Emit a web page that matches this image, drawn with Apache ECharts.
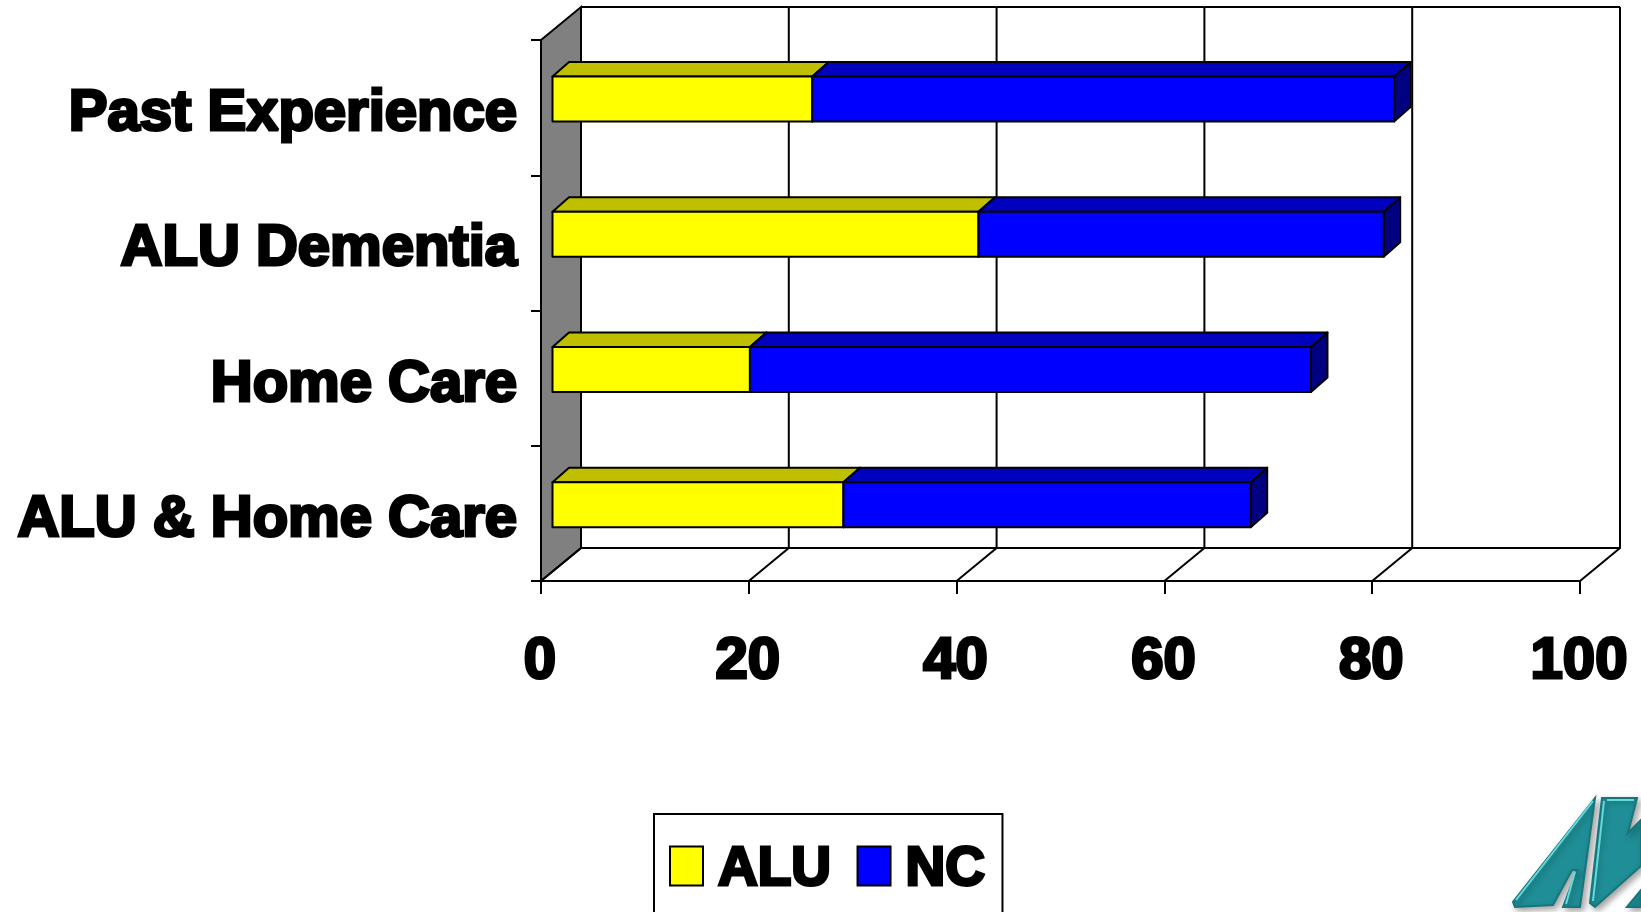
<!DOCTYPE html>
<html>
<head>
<meta charset="utf-8">
<style>
  html, body { margin: 0; padding: 0; background: #fff; overflow: hidden; }
  #chart { width: 1641px; height: 912px; }
</style>
<script src="https://cdn.jsdelivr.net/npm/echarts@6/dist/echarts.min.js"></script>
</head>
<body>
<div id="chart"></div>
<script>
const categories = ['Past Experience', 'ALU Dementia', 'Home Care', 'ALU & Home Care'];
const aluValues = [25, 41, 19, 28];
const ncValues = [56, 39, 54, 39.2];
const valueTicks = [0, 20, 40, 60, 80, 100];

// Pseudo-3D offsets: chart box depth and the inset depth of each bar
const BOX_DX = 40, BOX_DY = -33;
const BAR_DX = 16.5, BAR_DY = -14.5, BAR_INSET_X = 11.5, BAR_INSET_Y = -8.7;
const BAR_RATIO = 0.333;

const heavyText = {
  fontFamily: '"Liberation Sans", Arial, sans-serif',
  fontWeight: 'bold',
  fontSize: 58,
  color: '#000',
  textBorderColor: '#000',
  textBorderWidth: 3
};

const lineStyle = { stroke: '#000', lineWidth: 2, fill: null };

function shade(hex, factor) {
  const n = parseInt(hex.slice(1), 16);
  const c = [n >> 16, (n >> 8) & 255, n & 255].map(v => Math.round(v * factor));
  return `rgb(${c[0]},${c[1]},${c[2]})`;
}

function renderBar(color) {
  return function (params, api) {
    const cat = api.value(0);
    const start = api.coord([api.value(1), cat]);
    const end = api.coord([api.value(2), cat]);
    const h = api.size([0, 1])[1] * BAR_RATIO;
    const x0 = start[0] + BAR_INSET_X;
    const x1 = end[0] + BAR_INSET_X;
    const yT = start[1] + BAR_INSET_Y - h / 2;
    const yB = yT + h;
    const poly = (points, fill) => ({
      type: 'polygon',
      shape: { points },
      style: { fill, stroke: '#000', lineWidth: 2, lineJoin: 'round' }
    });
    return {
      type: 'group',
      children: [
        poly([[x1, yT], [x1 + BAR_DX, yT + BAR_DY], [x1 + BAR_DX, yB + BAR_DY], [x1, yB]], shade(color, 0.5)),
        poly([[x0, yT], [x0 + BAR_DX, yT + BAR_DY], [x1 + BAR_DX, yT + BAR_DY], [x1, yT]], shade(color, 0.75)),
        poly([[x0, yT], [x1, yT], [x1, yB], [x0, yB]], color)
      ]
    };
  };
}

// Back wall, side wall and floor rulings of the chart box
function renderFrame(params, api) {
  const v = api.value(0);
  const i = params.dataIndex;
  const bottom = api.coord([v, categories.length - 0.5]);
  bottom[1] = params.coordSys.y + params.coordSys.height;
  const topY = params.coordSys.y + BOX_DY;
  const bx = bottom[0] + BOX_DX;
  const by = bottom[1] + BOX_DY;
  const children = [
    { type: 'polyline', shape: { points: [[bottom[0], bottom[1]], [bx, by], [bx, topY]] }, style: lineStyle }
  ];
  if (i === 0) {
    children.unshift({
      type: 'polygon',
      shape: { points: [[bottom[0], params.coordSys.y], [bx, topY], [bx, by], [bottom[0], bottom[1]]] },
      style: { fill: '#808080', stroke: '#000', lineWidth: 2 }
    });
  }
  if (i < valueTicks.length - 1) {
    const nx = api.coord([valueTicks[i + 1], 0])[0] + BOX_DX;
    children.push(
      { type: 'line', shape: { x1: bx, y1: by, x2: nx, y2: by }, style: lineStyle },
      { type: 'line', shape: { x1: bx, y1: topY, x2: nx, y2: topY }, style: lineStyle }
    );
  }
  return { type: 'group', children };
}

// Company mark in the lower right corner
const markPieces = [
  [[1595, 798], [1513, 902], [1515, 907], [1553, 905], [1572, 870], [1577, 870], [1563, 907], [1580, 907]],
  [[1602, 798], [1637, 798], [1628, 833], [1641, 820], [1641, 866], [1595, 907], [1590, 903]],
  [[1627, 907], [1641, 890], [1641, 907]]
];
const markHighlights = [
  [[1593, 801], [1516, 900]],
  [[1604, 801], [1593, 901]],
  [[1575, 872], [1566, 904]],
  [[1607, 800], [1634, 800]]
];

const chart = echarts.init(document.getElementById('chart'), null, { renderer: 'canvas' });
chart.setOption({
  animation: false,
  backgroundColor: '#fff',
  grid: { left: 541, top: 40, width: 1039, height: 541 },
  xAxis: {
    type: 'value',
    min: 0,
    max: 100,
    interval: 20,
    splitLine: { show: false },
    axisLine: { show: true, lineStyle: { color: '#000', width: 2 } },
    axisTick: { show: true, length: 13, lineStyle: { color: '#000', width: 2 } },
    axisLabel: { ...heavyText, margin: 52, padding: [0, 2, 0, 0], showMinLabel: true, showMaxLabel: true }
  },
  yAxis: {
    type: 'category',
    inverse: true,
    data: categories,
    axisLine: { show: true, lineStyle: { color: '#000', width: 2 } },
    axisTick: { show: true, length: 10, lineStyle: { color: '#000', width: 2 } },
    axisLabel: {
      ...heavyText,
      margin: 24,
      formatter: '{name|{value}}',
      rich: { name: { ...heavyText, padding: [13, 0, 0, 0] } }
    }
  },
  legend: {
    data: ['ALU', 'NC'],
    left: 654,
    top: 814,
    orient: 'horizontal',
    padding: [27, 16, 33, 15],
    itemWidth: 33,
    itemHeight: 39,
    itemGap: 24,
    icon: 'rect',
    backgroundColor: '#fff',
    borderColor: '#000',
    borderWidth: 2,
    selectedMode: false,
    itemStyle: { borderColor: '#000', borderWidth: 2 },
    formatter: '{label|{name}}',
    textStyle: {
      ...heavyText,
      fontSize: 55,
      rich: { label: { ...heavyText, fontSize: 55, padding: [8, 0, 0, 10] } }
    }
  },
  graphic: [
    ...markPieces.map(points => ({
      type: 'polygon',
      shape: { points },
      z: 1,
      style: {
        fill: '#1f8e96',
        stroke: '#17757c',
        lineWidth: 2,
        shadowColor: 'rgba(0,0,0,0.35)',
        shadowBlur: 6,
        shadowOffsetX: 3,
        shadowOffsetY: 3
      }
    })),
    ...markHighlights.map(points => ({
      type: 'polyline',
      shape: { points },
      z: 2,
      style: { stroke: '#63dadc', lineWidth: 2, fill: null }
    }))
  ],
  series: [
    {
      name: 'frame',
      type: 'custom',
      silent: true,
      z: 1,
      clip: false,
      renderItem: renderFrame,
      encode: { x: 0 },
      data: valueTicks.map(v => [v])
    },
    {
      name: 'ALU',
      type: 'custom',
      z: 3,
      clip: false,
      itemStyle: { color: '#ffff00' },
      renderItem: renderBar('#ffff00'),
      encode: { x: [1, 2], y: 0 },
      data: aluValues.map((v, i) => [i, 0, v])
    },
    {
      name: 'NC',
      type: 'custom',
      z: 4,
      clip: false,
      itemStyle: { color: '#0000ff' },
      renderItem: renderBar('#0000ff'),
      encode: { x: [1, 2], y: 0 },
      data: ncValues.map((v, i) => [i, aluValues[i], aluValues[i] + v])
    }
  ]
});
</script>
</body>
</html>
